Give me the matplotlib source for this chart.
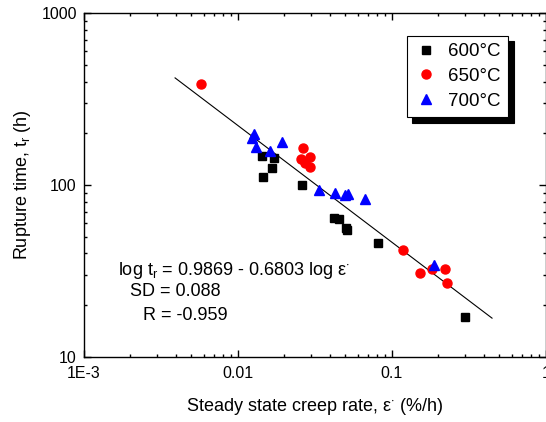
import numpy as np
import matplotlib
matplotlib.use("Agg")
import matplotlib.pyplot as plt
from matplotlib.ticker import LogLocator, FixedLocator, FixedFormatter, NullFormatter

plt.rcParams['font.family'] = ['Liberation Sans', 'DejaVu Sans']
plt.rcParams['mathtext.fontset'] = 'custom'
plt.rcParams['mathtext.rm'] = 'Liberation Sans'
plt.rcParams['mathtext.it'] = 'Liberation Sans:italic'

# creep rate (%/h) and rupture time (h)
rate_600 = [0.0143, 0.0145, 0.0172, 0.0168, 0.0263, 0.0424, 0.0455, 0.0503, 0.0515, 0.0811, 0.301]
time_600 = [147, 112, 143, 125, 99.6, 64, 63.4, 56.4, 54.7, 45.7, 16.9]

rate_650 = [0.00578, 0.0266, 0.0258, 0.0295, 0.0273, 0.0295, 0.118, 0.153, 0.182, 0.221, 0.228]
time_650 = [386, 164, 141, 146, 134, 128, 41.8, 30.8, 32.3, 32.5, 26.7]

rate_700 = [0.0127, 0.0123, 0.0131, 0.0162, 0.0194, 0.0337, 0.0427, 0.0497, 0.0523, 0.0671, 0.189]
time_700 = [198, 187, 167, 158, 179, 93.5, 90.2, 87.5, 88.7, 82.8, 34.2]

# fit: log tr = a + b log e
fit_a = 0.9869
fit_b = -0.6803
fit_range = [0.00392, 0.448]

fig = plt.figure(figsize=(5.46, 4.22), dpi=100)
ax = fig.add_axes([0.1533, 0.155, 0.8462, 0.8132])

xf = np.array(fit_range)
ax.plot(xf, 10 ** (fit_a + fit_b * np.log10(xf)), color='black', lw=0.8, zorder=1)

ax.plot(rate_600, time_600, 's', color='black', ms=6, mec='black', label='600°C', zorder=3)
ax.plot(rate_650, time_650, 'o', color='red', ms=6.5, mec='red', label='650°C', zorder=3)
ax.plot(rate_700, time_700, '^', color='blue', ms=7, mec='blue', label='700°C', zorder=3)

ax.set_xscale('log')
ax.set_yscale('log')
ax.set_xlim(1e-3, 1)
ax.set_ylim(10, 1000)

ax.xaxis.set_major_locator(FixedLocator([1e-3, 1e-2, 1e-1, 1]))
ax.xaxis.set_major_formatter(FixedFormatter(['1E-3', '0.01', '0.1', '1']))
ax.xaxis.set_minor_locator(LogLocator(base=10, subs=np.arange(2, 10)))
ax.xaxis.set_minor_formatter(NullFormatter())
ax.yaxis.set_major_locator(FixedLocator([10, 100, 1000]))
ax.yaxis.set_major_formatter(FixedFormatter(['10', '100', '1000']))
ax.yaxis.set_minor_locator(LogLocator(base=10, subs=np.arange(2, 10)))
ax.yaxis.set_minor_formatter(NullFormatter())

ax.tick_params(which='both', direction='in', top=True, right=True, width=1)
ax.tick_params(which='major', length=5, labelsize=11.5)
ax.tick_params(axis='x', which='major', pad=7)
ax.tick_params(axis='y', which='major', pad=5)
ax.tick_params(which='minor', length=2.5)
for s in ax.spines.values():
    s.set_linewidth(1)

ax.set_xlabel('Steady state creep rate, ε$^{\\cdot}$ (%/h)', fontsize=13)
ax.set_ylabel(r'Rupture time, $\mathregular{t_r}$ (h)', fontsize=13)
ax.xaxis.set_label_coords(0.5, -0.115)
ax.yaxis.set_label_coords(-0.11, 0.5)

leg = ax.legend(loc='upper left', bbox_to_anchor=(0.70, 0.935), borderaxespad=0,
                fontsize=13.5, frameon=True, fancybox=False, edgecolor='black', framealpha=1,
                shadow={'color': 'black', 'alpha': 1, 'ox': 3.8, 'oy': -4},
                handletextpad=0.6, handlelength=1.2, borderpad=0.4, labelspacing=0.4)
leg.get_frame().set_linewidth(0.8)

ax.text(0.0745, 0.25, 'log $\\mathregular{t_r}$ = 0.9869 - 0.6803 log ε$^{\\cdot}$',
        transform=ax.transAxes, fontsize=13, va='center', ha='left')
ax.text(0.1, 0.189, 'SD = 0.088', transform=ax.transAxes, fontsize=13, va='center', ha='left')
ax.text(0.128, 0.12, 'R = -0.959', transform=ax.transAxes, fontsize=13, va='center', ha='left')

fig.savefig('out.png', dpi=100)
